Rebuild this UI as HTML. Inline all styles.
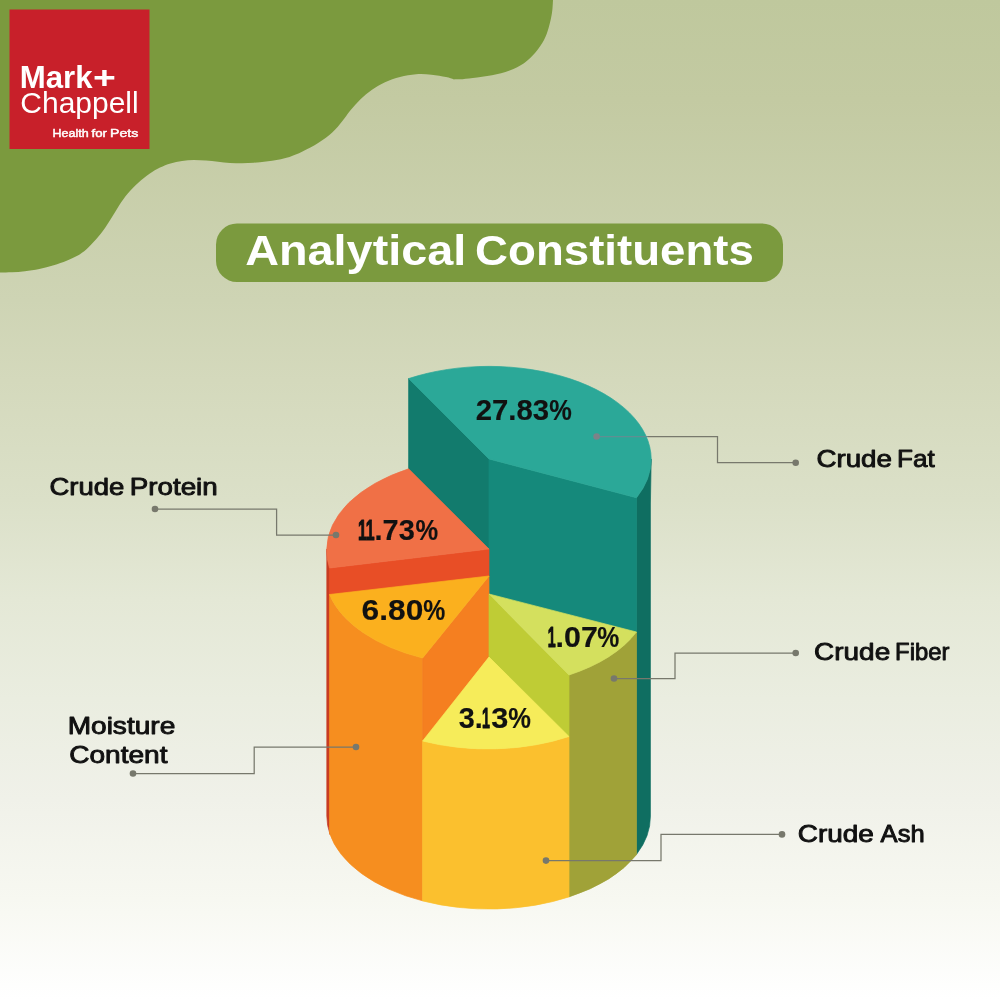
<!DOCTYPE html>
<html><head><meta charset="utf-8"><title>Analytical Constituents</title>
<style>
html,body{margin:0;padding:0;}
body{width:1000px;height:999px;overflow:hidden;background:#e4e8d2;font-family:"Liberation Sans",sans-serif;}
svg{display:block;font-family:"Liberation Sans",sans-serif;}
</style></head><body>
<svg width="1000" height="999" viewBox="0 0 1000 999">
<defs>
<linearGradient id="bg" x1="0" y1="0" x2="0" y2="1">
<stop offset="0" stop-color="#bfc89d"/>
<stop offset="0.1" stop-color="#c3caa2"/>
<stop offset="0.3" stop-color="#ced4b4"/>
<stop offset="0.38" stop-color="#d4d9bc"/>
<stop offset="0.5" stop-color="#dbe0c8"/>
<stop offset="0.6" stop-color="#e4e8d6"/>
<stop offset="0.7" stop-color="#eaede0"/>
<stop offset="0.8" stop-color="#f0f1e9"/>
<stop offset="0.9" stop-color="#f7f8f1"/>
<stop offset="1" stop-color="#ffffff"/>
</linearGradient>
</defs>
<rect width="1000" height="999" fill="url(#bg)"/>
<path d="M0 0 L553 0 C552.8 3.1 552.7 8.3 552.0 12.8 C551.3 17.3 550.1 22.7 548.8 27.2 C547.5 31.7 546.3 35.7 544.0 40.0 C541.7 44.3 538.5 48.9 535.2 52.8 C531.9 56.7 528.3 60.3 524.0 63.2 C519.7 66.1 514.9 68.4 509.6 70.4 C504.3 72.4 498.1 74.0 492.0 75.2 C485.9 76.5 478.1 77.2 472.8 77.9 C467.5 78.6 463.1 79.0 460.0 79.3 C456.9 79.5 456.0 79.2 454.0 79.4 C451.7 78.6 449.8 77.8 446.0 77.0 C442.2 76.2 436.5 75.1 431.5 74.7 C426.5 74.2 421.2 73.9 416.0 74.3 C410.8 74.7 405.2 75.6 400.0 76.9 C394.8 78.2 389.7 80.1 385.0 82.2 C380.3 84.4 376.1 86.9 372.0 89.8 C367.9 92.6 364.1 95.8 360.5 99.2 C356.9 102.7 353.6 106.5 350.5 110.2 C347.4 114.0 345.0 117.8 342.0 121.5 C339.0 125.2 336.4 128.7 332.5 132.2 C328.6 135.8 323.5 139.5 318.5 142.8 C313.5 146.0 307.3 149.2 302.5 151.6 C297.7 154.0 293.6 155.6 289.5 156.9 C285.4 158.2 281.9 158.9 278.0 159.7 C274.1 160.4 270.0 160.9 266.0 161.4 C262.0 161.9 258.0 162.4 254.0 162.7 C250.0 162.9 246.0 163.1 242.0 163.2 C238.0 163.2 234.0 163.1 230.0 162.9 C226.0 162.7 222.0 162.2 218.0 161.8 C214.0 161.4 210.0 160.9 206.0 160.6 C202.0 160.3 198.0 160.1 194.0 160.1 C190.0 160.2 185.9 160.4 182.0 160.9 C178.1 161.5 174.2 162.3 170.5 163.4 C166.8 164.5 163.5 165.8 160.0 167.6 C156.5 169.3 153.1 171.3 149.5 173.8 C145.9 176.3 141.9 179.4 138.3 182.7 C134.7 186.0 130.9 189.8 127.8 193.5 C124.6 197.2 122.0 201.1 119.4 204.9 C116.9 208.7 114.9 212.5 112.5 216.3 C110.1 220.2 107.8 224.1 105.0 228.0 C102.2 231.9 99.0 236.1 95.9 239.6 C92.8 243.1 89.6 246.5 86.5 249.2 C83.4 251.9 80.6 253.9 77.3 255.8 C74.0 257.7 70.5 259.2 66.6 260.8 C62.7 262.4 58.2 264.0 53.7 265.3 C49.1 266.6 44.1 267.9 39.3 268.9 C34.5 269.9 29.4 270.6 24.9 271.2 C20.3 271.7 16.1 272.1 12.0 272.3 C7.9 272.5 3.3 272.4 0.0 272.4 L0 272.4 Z" fill="#7b9a3e"/>
<rect x="9.5" y="9.5" width="140" height="139.5" fill="#c8202a"/>
<rect x="216" y="223.5" width="567" height="58.5" rx="21" ry="21" fill="#7b9a3e"/>
<path d="M636.5 497.8 A162.2 93 0 0 0 651.2 459.0 L650.4 504 L650.4 816 A161.39999999999998 93 0 0 1 636.5 854.4 Z" fill="#0f6e61" stroke="#0f6e61" stroke-width="0.7" stroke-linejoin="round"/>
<path d="M408.6 378.6 L489 459 L489 554 L408.6 474 Z" fill="#127b6d" stroke="#127b6d" stroke-width="0.7" stroke-linejoin="round"/>
<path d="M489 459 L636.5 497.8 L636.5 640 L489 600 Z" fill="#15897b" stroke="#15897b" stroke-width="0.7" stroke-linejoin="round"/>
<path d="M408.6 378.6 A162.2 93 0 0 1 651.2 459.0 A162.2 93 0 0 1 636.5 497.8 L489 459 Z" fill="#2ba898" stroke="#2ba898" stroke-width="0.7" stroke-linejoin="round"/>
<path d="M326.8 549 A162.2 93 0 0 0 330.1 568.0 L330.1 834.6641932020822 A162.2 93 0 0 1 326.8 816.0 Z" fill="#c83c22" stroke="#c83c22" stroke-width="0.7" stroke-linejoin="round"/>
<path d="M329.5 568 L489 549 L489 577 L329.5 595 Z" fill="#e84e26" stroke="#e84e26" stroke-width="0.7" stroke-linejoin="round"/>
<path d="M408.6 468.8 A162.2 93 0 0 0 326.8 549.0 A162.2 93 0 0 0 329.5 568.0 L489 549 Z" fill="#f07046" stroke="#f07046" stroke-width="0.7" stroke-linejoin="round"/>
<path d="M329.5 594.5 A162.2 93 0 0 0 422.6 658.0 L422.6 900.8502187402279 A162.2 93 0 0 1 329.5 832.9 Z" fill="#f68e1f" stroke="#f68e1f" stroke-width="0.7" stroke-linejoin="round"/>
<path d="M422.6 658 L489 576 L489 657 L422.6 742 Z" fill="#f57f20" stroke="#f57f20" stroke-width="0.7" stroke-linejoin="round"/>
<path d="M329.5 594.5 A162.2 93 0 0 0 422.6 658.0 L489 576 Z" fill="#fbb01e" stroke="#fbb01e" stroke-width="0.7" stroke-linejoin="round"/>
<path d="M569 675 A162.2 93 0 0 0 636.5 632.0 L636.5 854.6866717640034 A162.2 93 0 0 1 569.0 896.9 Z" fill="#a0a238" stroke="#a0a238" stroke-width="0.7" stroke-linejoin="round"/>
<path d="M489 594 L569 675 L569 737 L489 657 Z" fill="#bfcc35" stroke="#bfcc35" stroke-width="0.7" stroke-linejoin="round"/>
<path d="M489 594 L636.5 632 A162.2 93 0 0 1 569.0 675.0 Z" fill="#d4e05e" stroke="#d4e05e" stroke-width="0.7" stroke-linejoin="round"/>
<path d="M422.6 741 A162.2 93 0 0 0 569.0 736.5 L569 896.9012211136588 A162.2 93 0 0 1 422.6 900.9 Z" fill="#fbc02e" stroke="#fbc02e" stroke-width="0.7" stroke-linejoin="round"/>
<path d="M489 657 L569 736.5 A162.2 93 0 0 1 422.6 741.0 Z" fill="#f6ec5a" stroke="#f6ec5a" stroke-width="0.7" stroke-linejoin="round"/>
<path d="M596.6 436.5 L648 436.5" stroke="#5f8f92" stroke-width="1.25" fill="none"/><circle cx="596.6" cy="436.5" r="3.3" fill="#7d8288"/>
<path d="M648 436.5 L717.5 436.5 L717.5 462.7 L795.7 462.7" fill="none" stroke="#77786c" stroke-width="1.25"/><circle cx="795.7" cy="462.7" r="3.3" fill="#77786c"/>
<path d="M614 678.5 L675 678.5 L675 653 L795.7 653" fill="none" stroke="#77786c" stroke-width="1.25"/><circle cx="614" cy="678.5" r="3.3" fill="#77786c"/><circle cx="795.7" cy="653" r="3.3" fill="#77786c"/>
<path d="M546 860.6 L661 860.6 L661 834.4 L782 834.4" fill="none" stroke="#77786c" stroke-width="1.25"/><circle cx="546" cy="860.6" r="3.3" fill="#77786c"/><circle cx="782" cy="834.4" r="3.3" fill="#77786c"/>
<path d="M155 509 L276.6 509 L276.6 535 L336 535" fill="none" stroke="#77786c" stroke-width="1.25"/><circle cx="155" cy="509" r="3.3" fill="#77786c"/><circle cx="336" cy="535" r="3.3" fill="#77786c"/>
<path d="M133 773.5 L254.2 773.5 L254.2 747 L356 747" fill="none" stroke="#77786c" stroke-width="1.25"/><circle cx="133" cy="773.5" r="3.3" fill="#77786c"/><circle cx="356" cy="747" r="3.3" fill="#77786c"/>
<text aria-label="Analytical Constituents" y="265" font-size="43" font-weight="700" fill="#ffffff"><tspan x="245.23" textLength="234.08" lengthAdjust="spacingAndGlyphs">Analytical </tspan><tspan x="475.13" textLength="278.74" lengthAdjust="spacingAndGlyphs">Constituents</tspan></text>
<text aria-label="27.83%" y="419.7" font-size="29.3" font-weight="700" fill="#111111" stroke="#111111" stroke-width="0.15" stroke-linejoin="round"><tspan x="475.66" textLength="73.43" lengthAdjust="spacingAndGlyphs">27.83</tspan><tspan x="549.24" textLength="22.55" lengthAdjust="spacingAndGlyphs">%</tspan></text>
<text aria-label="11.73%" y="539.6" font-size="29.3" font-weight="700" fill="#111111" stroke="#111111" stroke-width="0.15" stroke-linejoin="round"><tspan x="357.90" stroke-width="1.1" textLength="16.77" lengthAdjust="spacingAndGlyphs">11</tspan><tspan x="374.51" textLength="40.26" lengthAdjust="spacingAndGlyphs">.73</tspan><tspan x="415.44" textLength="22.66" lengthAdjust="spacingAndGlyphs">%</tspan></text>
<text aria-label="6.80%" y="620.3" font-size="29.3" font-weight="700" fill="#111111" stroke="#111111" stroke-width="0.15" stroke-linejoin="round"><tspan x="361.61" textLength="61.71" lengthAdjust="spacingAndGlyphs">6.80</tspan><tspan x="423.16" textLength="22.02" lengthAdjust="spacingAndGlyphs">%</tspan></text>
<text aria-label="1.07%" y="646.8" font-size="29.3" font-weight="700" fill="#111111" stroke="#111111" stroke-width="0.15" stroke-linejoin="round"><tspan x="547.86" stroke-width="1.1" textLength="7.89" lengthAdjust="spacingAndGlyphs">1</tspan><tspan x="555.61" textLength="42.25" lengthAdjust="spacingAndGlyphs">.07</tspan><tspan x="597.16" textLength="22.02" lengthAdjust="spacingAndGlyphs">%</tspan></text>
<text aria-label="3.13%" y="727.6" font-size="29.3" font-weight="700" fill="#111111" stroke="#111111" stroke-width="0.15" stroke-linejoin="round"><tspan x="458.71" textLength="23.99" lengthAdjust="spacingAndGlyphs">3.</tspan><tspan x="482.06" stroke-width="1.1" textLength="7.89" lengthAdjust="spacingAndGlyphs">1</tspan><tspan x="491.17" textLength="17.06" lengthAdjust="spacingAndGlyphs">3</tspan><tspan x="508.24" textLength="22.66" lengthAdjust="spacingAndGlyphs">%</tspan></text>
<text aria-label="Crude Fat" y="467.3" font-size="23.6" font-weight="400" fill="#111111" stroke="#111111" stroke-width="0.9" stroke-linejoin="round"><tspan x="816.44" textLength="83.25" lengthAdjust="spacingAndGlyphs">Crude </tspan><tspan x="897.11" textLength="37.73" lengthAdjust="spacingAndGlyphs">Fat</tspan></text>
<text aria-label="Crude Fiber" y="660.1" font-size="23.6" font-weight="400" fill="#111111" stroke="#111111" stroke-width="0.9" stroke-linejoin="round"><tspan x="814.13" textLength="83.82" lengthAdjust="spacingAndGlyphs">Crude </tspan><tspan x="895.09" textLength="54.35" lengthAdjust="spacingAndGlyphs">Fiber</tspan></text>
<text aria-label="Crude Ash" y="841.9" font-size="23.6" font-weight="400" fill="#111111" stroke="#111111" stroke-width="0.9" stroke-linejoin="round"><tspan x="797.73" textLength="83.82" lengthAdjust="spacingAndGlyphs">Crude </tspan><tspan x="880.60" textLength="44.01" lengthAdjust="spacingAndGlyphs">Ash</tspan></text>
<text aria-label="Crude Protein" y="495.4" font-size="23.6" font-weight="400" fill="#111111" stroke="#111111" stroke-width="0.9" stroke-linejoin="round"><tspan x="49.45" textLength="82.56" lengthAdjust="spacingAndGlyphs">Crude </tspan><tspan x="129.77" textLength="87.98" lengthAdjust="spacingAndGlyphs">Protein</tspan></text>
<text aria-label="Moisture" y="734.2" font-size="23.6" font-weight="400" fill="#111111" stroke="#111111" stroke-width="0.9" stroke-linejoin="round"><tspan x="67.65" textLength="107.65" lengthAdjust="spacingAndGlyphs">Moisture</tspan></text>
<text aria-label="Content" y="763" font-size="23.6" font-weight="400" fill="#111111" stroke="#111111" stroke-width="0.9" stroke-linejoin="round"><tspan x="69.28" textLength="98.18" lengthAdjust="spacingAndGlyphs">Content</tspan></text>
<text aria-label="Mark+" y="87.9" font-size="31.3" font-weight="700" fill="#ffffff"><tspan x="19.82" textLength="72.75" lengthAdjust="spacingAndGlyphs">Mark</tspan><tspan x="93.06" textLength="22.83" lengthAdjust="spacingAndGlyphs">+</tspan></text>
<text aria-label="Chappell" y="112.7" font-size="29.3" font-weight="400" fill="#ffffff"><tspan x="20.38" textLength="118.33" lengthAdjust="spacingAndGlyphs">Chappell</tspan></text>
<text aria-label="Health for Pets" y="136.9" font-size="11" font-weight="400" fill="#ffffff" stroke="#ffffff" stroke-width="0.45" stroke-linejoin="round"><tspan x="52.60" textLength="39.44" lengthAdjust="spacingAndGlyphs">Health </tspan><tspan x="91.54" textLength="19.14" lengthAdjust="spacingAndGlyphs">for </tspan><tspan x="110.06" textLength="28.32" lengthAdjust="spacingAndGlyphs">Pets</tspan></text>
</svg>
</body></html>
